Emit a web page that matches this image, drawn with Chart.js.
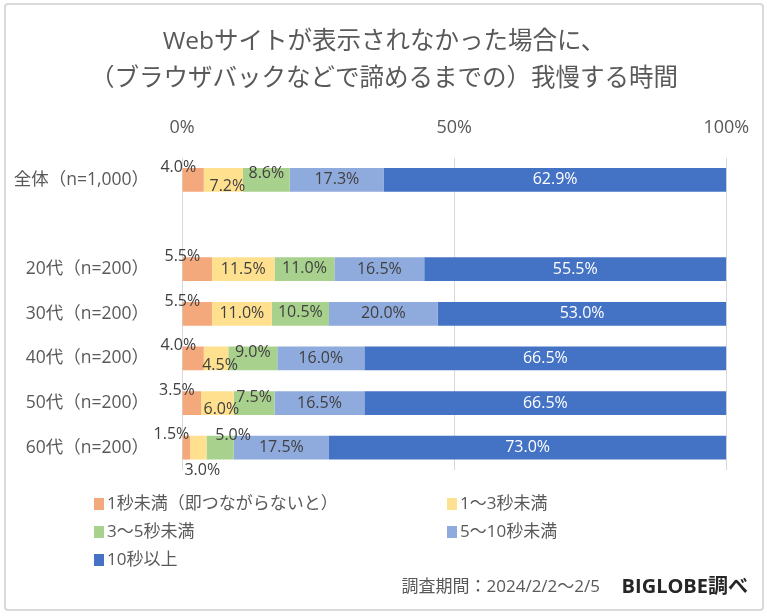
<!DOCTYPE html>
<html lang="ja">
<head>
<meta charset="utf-8">
<script src="https://cdn.jsdelivr.net/npm/chart.js@4.4.1/dist/chart.umd.min.js"></script>
<style>
html, body { margin: 0; padding: 0; background: #fff; }
#wrap { position: relative; width: 768px; height: 614px; }
#frame { position: absolute; left: 4px; top: 3px; width: 756px; height: 604px; border: 2px solid #d9d9d9; border-radius: 4px; pointer-events: none; }
</style>
</head>
<body>
<div id="wrap">
  <canvas id="graficoEspera" width="768" height="614"></canvas>
  <div id="frame"></div>
</div>
<script>
const rotulos = ["全体（n=1,000）", "", "20代（n=200）", "30代（n=200）", "40代（n=200）", "50代（n=200）", "60代（n=200）"];
const nomesSeries = ["1秒未満（即つながらないと）", "1～3秒未満", "3～5秒未満", "5～10秒未満", "10秒以上"];
const menos1 = [4.0, null, 5.5, 5.5, 4.0, 3.5, 1.5];
const de1a3 = [7.2, null, 11.5, 11.0, 4.5, 6.0, 3.0];
const de3a5 = [8.6, null, 11.0, 10.5, 9.0, 7.5, 5.0];
const de5a10 = [17.3, null, 16.5, 20.0, 16.0, 16.5, 17.5];
const mais10 = [62.9, null, 55.5, 53.0, 66.5, 66.5, 73.0];
const marcasX = [0, 50, 100];
const titulo = ["Webサイトが表示されなかった場合に、", "（ブラウザバックなどで諦めるまでの）我慢する時間"];
const cores = ["#f4a97c", "#ffe08f", "#a9d18e", "#8faadc", "#4472c4"];

const fonte = "'Open Sans', 'Noto Sans CJK JP', sans-serif";

// rotulos dos segmentos, com os pequenos deslocados como no original
const rotulosDados = {
    id: "rotulosDados",
    afterDatasetsDraw(chart) {
        const ctx = chart.ctx;
        ctx.save();
        ctx.font = "16px " + fonte;
        ctx.textBaseline = "middle";
        chart.data.datasets.forEach((ds, i) => {
            const meta = chart.getDatasetMeta(i);
            meta.data.forEach((bar, j) => {
                const v = ds.data[j];
                if (v == null) return;
                const p = bar.getProps(["x", "base", "y", "height"], true);
                const cx = (p.x + p.base) / 2;
                const topo = p.y - p.height / 2;
                const fundo = p.y + p.height / 2;
                let tx = cx, ty = p.y, alinh = "center";
                if (i === 0) {
                    tx = cx + 3; ty = topo - 1; alinh = "right";
                } else if (i === 1 && v < 10) {
                    tx = cx + 4; ty = v < 4 ? fundo + 11 : fundo - 5;
                } else if (i === 2) {
                    if (v < 6) { tx = cx + 13; ty = topo; }
                    else if (v < 10) ty = p.y - 6;
                    else ty = p.y - 1;
                }
                ctx.fillStyle = i === 4 ? "#ffffff" : "#404040";
                ctx.textAlign = alinh;
                ctx.fillText(v.toFixed(1) + "%", tx, ty);
            });
        });
        ctx.restore();
    }
};

// titulo centrado na figura, legenda em duas colunas e rodape
const textosExtras = {
    id: "textosExtras",
    afterDraw(chart) {
        const ctx = chart.ctx;
        ctx.save();
        ctx.textBaseline = "middle";

        ctx.textAlign = "center";
        ctx.font = "24.5px " + fonte;
        ctx.fillStyle = "#595959";
        ctx.fillText(titulo[0], 384, 42.4);
        ctx.fillText(titulo[1], 384, 79.1);

        const pos = [[94, 504], [447, 504], [94, 532], [447, 532], [94, 560]];
        ctx.textAlign = "left";
        ctx.font = "17px " + fonte;
        chart.data.datasets.forEach((ds, i) => {
            const [x, y] = pos[i];
            ctx.fillStyle = ds.backgroundColor;
            ctx.fillRect(x, y - 6, 10, 12);
            ctx.fillStyle = "#595959";
            ctx.fillText(ds.label, x + 13, y);
        });

        ctx.textAlign = "right";
        ctx.font = "bold 20px " + fonte;
        ctx.fillStyle = "#262626";
        ctx.fillText("BIGLOBE調べ", 748, 587);
        ctx.font = "17px " + fonte;
        ctx.fillStyle = "#595959";
        ctx.fillText("調査期間：2024/2/2～2/5", 600, 587);
        ctx.restore();
    }
};

new Chart(document.getElementById("graficoEspera"), {
    type: "bar",
    data: {
        labels: rotulos,
        datasets: [
            { label: nomesSeries[0], data: menos1, backgroundColor: cores[0] },
            { label: nomesSeries[1], data: de1a3, backgroundColor: cores[1] },
            { label: nomesSeries[2], data: de3a5, backgroundColor: cores[2] },
            { label: nomesSeries[3], data: de5a10, backgroundColor: cores[3] },
            { label: nomesSeries[4], data: mais10, backgroundColor: cores[4] }
        ]
    },
    options: {
        indexAxis: "y",
        responsive: false,
        animation: false,
        categoryPercentage: 1,
        barPercentage: 0.53,
        layout: { padding: { left: 0, right: 41, top: 117.2, bottom: 144 } },
        scales: {
            x: {
                position: "top",
                stacked: true,
                min: 0,
                max: 100,
                afterBuildTicks: (s) => { s.ticks = marcasX.map(v => ({ value: v })); },
                afterFit: (s) => { s.height = 40.4; },
                ticks: {
                    callback: (v) => v + "%",
                    padding: 18.8,
                    color: "#595959",
                    font: { size: 18, family: fonte }
                },
                grid: { color: "#d9d9d9", drawTicks: false },
                border: { display: false }
            },
            y: {
                stacked: true,
                afterFit: (s) => { s.width = 182; },
                ticks: {
                    padding: 25,
                    color: "#595959",
                    font: { size: 17.5, family: fonte }
                },
                grid: { display: false },
                border: { display: false }
            }
        },
        plugins: {
            legend: { display: false },
            tooltip: { enabled: false },
            title: { display: false }
        }
    },
    plugins: [rotulosDados, textosExtras]
});
</script>
</body>
</html>
